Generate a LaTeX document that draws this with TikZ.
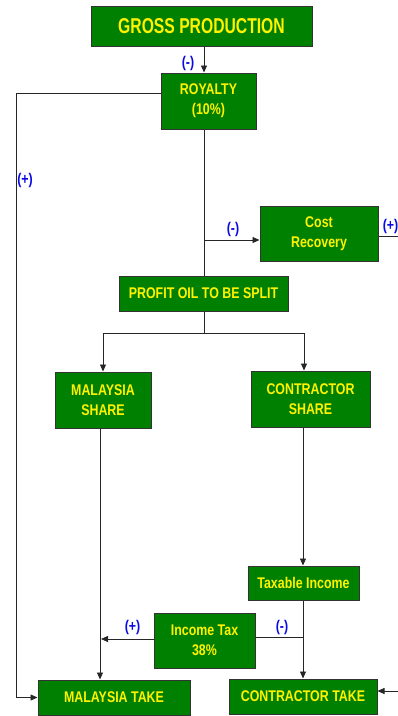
\documentclass[tikz,border=0pt]{standalone}
\usepackage{fontspec}
\usetikzlibrary{arrows.meta}
\newfontfamily\nf[FakeStretch=0.8]{Liberation Sans Bold}
\newfontfamily\nfg[FakeStretch=0.73]{Liberation Sans Bold}
\definecolor{boxgreen}{RGB}{0,128,0}
\definecolor{lblblue}{RGB}{10,10,230}
\begin{document}
\begin{tikzpicture}[x=1pt,y=-1pt,
  box/.style={draw=black!80, line width=1pt, fill=boxgreen, text=yellow, inner sep=0pt, align=center, font=\nf\fontsize{15.5}{20}\selectfont},
  con/.style={draw=black!85, line width=0.8pt},
  arr/.style={con, -{Triangle[length=7pt,width=6pt]}},
  lbl/.style={text=lblblue, inner sep=0pt, font=\nf\fontsize{15.5}{18}\selectfont}]
\useasboundingbox (0,0) rectangle (398,716);
\node[box, minimum width=221pt, minimum height=40pt, font=\nfg\fontsize{21.5}{24}\selectfont] (gross) at (201.5,26) {GROSS PRODUCTION};
\node[box, minimum width=95pt, minimum height=56pt] (royalty) at (208.5,101) {ROYALTY\\(10\%)};
\node[box, minimum width=118pt, minimum height=55pt] (cost) at (319,233.5) {Cost\\Recovery};
\node[box, minimum width=169pt, minimum height=35pt] (profit) at (203.5,293.5) {PROFIT OIL TO BE SPLIT};
\node[box, minimum width=96pt, minimum height=56pt] (mshare) at (103,400) {MALAYSIA\\SHARE};
\node[box, minimum width=119pt, minimum height=56pt] (cshare) at (310.5,399) {CONTRACTOR\\SHARE};
\node[box, minimum width=111pt, minimum height=34pt] (taxable) at (303.5,583) {Taxable Income};
\node[box, minimum width=101pt, minimum height=55pt] (itax) at (204.5,640.5) {Income Tax\\38\%};
\node[box, minimum width=152pt, minimum height=35pt] (mtake) at (114,697.5) {MALAYSIA TAKE};
\node[box, minimum width=148pt, minimum height=35pt] (ctake) at (303,696.5) {CONTRACTOR TAKE};
% labels
\node[lbl] (l1) at (188,63) {(-)};
\node[lbl] (l2) at (25,180) {(+)};
\node[lbl] (l3) at (233,229) {(-)};
\node[lbl] (l4) at (390.5,226) {(+)};
\node[lbl] (l5) at (132.5,627) {(+)};
\node[lbl] (l6) at (282,627) {(-)};
% coordinates
\coordinate (c1) at (204,0);
\coordinate (lft) at (16,93);
\coordinate (b1) at (204,240);
\coordinate (rgt1) at (398,236);
\coordinate (sp) at (204,333);
\coordinate (sl) at (103,333);
\coordinate (sr) at (304,333);
\coordinate (mcol) at (100,0);
\coordinate (ccol) at (303,0);
\coordinate (tb) at (303,637);
\coordinate (ml) at (101,639);
\coordinate (rgt2) at (398,691);
% connectors
\draw[arr] (gross.south -| c1) -- (royalty.north -| c1);
\draw[arr] (royalty.west |- lft) -- (lft) |- (mtake.west);
\draw[con] (royalty.south -| c1) -- (profit.north -| c1);
\draw[arr] (b1) -- (cost.west |- b1);
\draw[con] (cost.east |- rgt1) -- (rgt1);
\draw[con] (profit.south -| c1) -- (sp);
\draw[con] (sl) -- (sr);
\draw[arr] (sl) -- (mshare.north -| sl);
\draw[arr] (sr) -- (cshare.north -| sr);
\draw[arr] (mshare.south -| mcol) -- (mtake.north -| mcol);
\draw[arr] (cshare.south -| ccol) -- (taxable.north -| ccol);
\draw[arr] (taxable.south -| ccol) -- (ctake.north -| ccol);
\draw[con] (tb) -- (itax.east |- tb);
\draw[arr] (itax.west |- ml) -- (ml);
\draw[arr] (rgt2) -- (ctake.east |- rgt2);
\end{tikzpicture}
\end{document}
